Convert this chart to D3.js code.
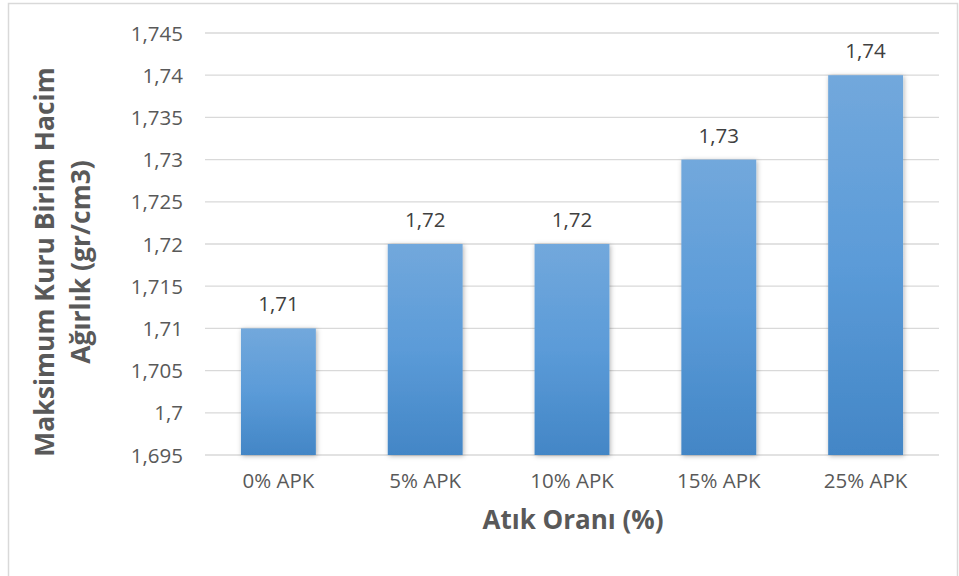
<!DOCTYPE html>
<html><head><meta charset="utf-8">
<script src="https://cdn.jsdelivr.net/npm/d3@7"></script>
<style>body{margin:0;background:#fff}svg{display:block}</style>
</head><body>
<svg id="c" width="959" height="576"></svg>
<script>
const categories = ["0% APK","5% APK","10% APK","15% APK","25% APK"];
const values = [1.71, 1.72, 1.72, 1.73, 1.74];
const valueLabels = ["1,71","1,72","1,72","1,73","1,74"];
const yTicks = [1.695,1.7,1.705,1.71,1.715,1.72,1.725,1.73,1.735,1.74,1.745];
const yTitle = ["Maksimum Kuru Birim Hacim","Ağırlık (gr/cm3)"];
const xTitle = "Atık Oranı (%)";

const svg = d3.select("#c");
const font = "'Open Sans', sans-serif";
const defs = svg.append("defs");
const g = defs.append("linearGradient").attr("id","bg").attr("x1",0).attr("y1",0).attr("x2",0).attr("y2",1);
g.append("stop").attr("offset","0%").attr("stop-color","#72a8dc");
g.append("stop").attr("offset","50%").attr("stop-color","#5b9bd8");
g.append("stop").attr("offset","100%").attr("stop-color","#4386c6");
const f = defs.append("filter").attr("id","sh").attr("x","-20%").attr("y","-20%").attr("width","140%").attr("height","140%");
f.append("feDropShadow").attr("dx",1).attr("dy",1).attr("stdDeviation",2.5).attr("flood-color","#000").attr("flood-opacity",0.3);

svg.append("rect").attr("x",8.5).attr("y",3.5).attr("width",949).attr("height",600)
  .attr("fill","#fff").attr("stroke","#d9d9d9").attr("stroke-width",1.5);

const x = d3.scaleBand().domain(categories).range([205,939]).paddingInner(0.49).paddingOuter(0.245);
const y = d3.scaleLinear().domain([1.695,1.745]).range([455,33]);

// gridlines
svg.append("g").selectAll("line").data(yTicks).join("line")
  .attr("x1",205).attr("x2",939).attr("y1",d=>y(d)).attr("y2",d=>y(d))
  .attr("stroke","#d9d9d9").attr("stroke-width",1.3);

// y axis labels
const yAxis = d3.axisLeft(y).tickValues(yTicks).tickSize(0).tickPadding(0)
  .tickFormat(d=>d3.format(".3~f")(d).replace(".",","));
const ya = svg.append("g").attr("transform","translate(183,0)").call(yAxis);
ya.select(".domain").remove();
ya.selectAll("text").attr("font-family",font).attr("font-size",20.5).attr("fill","#595959").attr("dy","0.35em");

// bars
svg.append("g").selectAll("rect").data(values).join("rect")
  .attr("x",(d,i)=>x(categories[i])).attr("width",x.bandwidth())
  .attr("y",d=>y(d)).attr("height",d=>y(1.695)-y(d))
  .attr("fill","url(#bg)").attr("filter","url(#sh)");

// value labels
svg.append("g").selectAll("text").data(values).join("text")
  .attr("x",(d,i)=>x(categories[i])+x.bandwidth()/2).attr("y",d=>y(d)-17)
  .attr("text-anchor","middle").attr("font-family",font).attr("font-size",20.5).attr("fill","#404040")
  .text((d,i)=>valueLabels[i]);

// x axis labels
const xAxis = d3.axisBottom(x).tickSize(0).tickPadding(0);
const xa = svg.append("g").attr("transform","translate(0,474)").call(xAxis);
xa.select(".domain").remove();
xa.selectAll("text").attr("font-family",font).attr("font-size",20.5).attr("fill","#595959").attr("dy","0.7em");

// axis titles
svg.append("text").attr("x",573).attr("y",529).attr("text-anchor","middle")
  .attr("font-family",font).attr("font-weight","bold").attr("font-size",26).attr("fill","#595959").text(xTitle);
const yt = svg.append("text").attr("transform","translate(0,262) rotate(-90)")
  .attr("text-anchor","middle").attr("font-family",font).attr("font-weight","bold").attr("font-size",26.5).attr("fill","#595959");
yt.append("tspan").attr("x",0).attr("y",54).text(yTitle[0]);
yt.append("tspan").attr("x",0).attr("y",90).text(yTitle[1]);
</script>
</body></html>
